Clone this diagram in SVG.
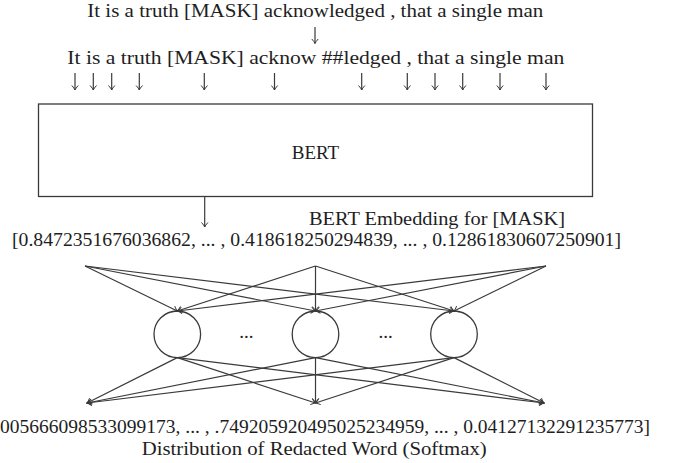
<svg xmlns="http://www.w3.org/2000/svg" width="678" height="463" viewBox="0 0 678 463">
  <style>
    text { font-family: "Liberation Serif", "DejaVu Serif", serif; font-size: 19px; fill: #1e1e1e; }
    .edge { stroke: #3a3a3a; stroke-width: 1.2; fill: none; }
    .arr { marker-end: url(#tip); }
    .node { stroke: #3a3a3a; stroke-width: 1.3; fill: #ffffff; }
  </style>
  <defs>
    <!-- small open arrowhead in the style of a TikZ "to" tip -->
    <marker id="tip" viewBox="-6 -4 7 8" refX="0" refY="0" markerWidth="7" markerHeight="8" markerUnits="userSpaceOnUse" orient="auto">
      <path d="M -4.5,-3.2 Q -1.6,-0.6 0,0 Q -1.6,0.6 -4.5,3.2" fill="none" stroke="#3a3a3a" stroke-width="1"/>
    </marker>
  </defs>

  <rect width="678" height="463" fill="#ffffff"/>

  <!-- input sentence and its word-piece tokenisation -->
  <g id="sentence">
    <text x="87.3" y="17" textLength="456" lengthAdjust="spacingAndGlyphs">It is a truth [MASK] acknowledged , that a single man</text>
  </g>
  <g id="tokens">
    <text x="67.3" y="63.5" textLength="497" lengthAdjust="spacingAndGlyphs">It is a truth [MASK] acknow ##ledged , that a single man</text>
  </g>

  <!-- encoder block -->
  <g id="bert">
    <rect class="node" x="38.5" y="104" width="554" height="92.5" fill="none"/>
    <text x="315.5" y="158.5" text-anchor="middle">BERT</text>
  </g>

  <!-- masked-token embedding -->
  <g id="embedding">
    <text x="309" y="225" textLength="256" lengthAdjust="spacingAndGlyphs">BERT Embedding for [MASK]</text>
    <text x="12" y="245.5" textLength="609" lengthAdjust="spacingAndGlyphs">[0.8472351676036862, ... , 0.418618250294839, ... , 0.12861830607250901]</text>
  </g>

  <!-- hidden layer -->
  <g id="hidden1"><circle class="node" cx="177.3" cy="334.3" r="23.3"/></g>
  <g id="hidden2"><circle class="node" cx="315.5" cy="334.3" r="23.3"/></g>
  <g id="hidden3"><circle class="node" cx="454" cy="334.3" r="23.3"/></g>
  <g id="hidden-gaps">
    <text x="246.4" y="338" text-anchor="middle">...</text>
    <text x="385.5" y="338" text-anchor="middle">...</text>
  </g>

  <!-- softmax output -->
  <g id="output">
    <text x="0" y="433" textLength="650" lengthAdjust="spacingAndGlyphs">005666098533099173, ... , .749205920495025234959, ... , 0.04127132291235773]</text>
    <text x="141.7" y="454.5" textLength="345" lengthAdjust="spacingAndGlyphs">Distribution of Redacted Word (Softmax)</text>
  </g>

  <g id="connectors">
    <!-- tokenisation step -->
    <line class="edge arr" x1="315" y1="27" x2="315" y2="43.5"/>
    <!-- tokens into the encoder -->
    <line class="edge arr" x1="75" y1="73" x2="75" y2="90"/>
    <line class="edge arr" x1="93.3" y1="73" x2="93.3" y2="90"/>
    <line class="edge arr" x1="111.7" y1="73" x2="111.7" y2="90"/>
    <line class="edge arr" x1="139.3" y1="73" x2="139.3" y2="90"/>
    <line class="edge arr" x1="204.3" y1="73" x2="204.3" y2="90"/>
    <line class="edge arr" x1="274.5" y1="73" x2="274.5" y2="90"/>
    <line class="edge arr" x1="361.7" y1="73" x2="361.7" y2="90"/>
    <line class="edge arr" x1="407.3" y1="73" x2="407.3" y2="90"/>
    <line class="edge arr" x1="435" y1="73" x2="435" y2="90"/>
    <line class="edge arr" x1="462.7" y1="73" x2="462.7" y2="90"/>
    <line class="edge arr" x1="500" y1="73" x2="500" y2="90"/>
    <line class="edge arr" x1="546" y1="73" x2="546" y2="90"/>
    <!-- encoder output for the masked position -->
    <line class="edge arr" x1="204.7" y1="196.5" x2="204.7" y2="227"/>

    <!-- embedding to hidden layer -->
    <line class="edge arr" x1="85" y1="266" x2="177.3" y2="311"/>
    <line class="edge arr" x1="85" y1="266" x2="315.5" y2="311"/>
    <line class="edge arr" x1="85" y1="266" x2="454" y2="311"/>
    <line class="edge arr" x1="315.5" y1="266" x2="177.3" y2="311"/>
    <line class="edge arr" x1="315.5" y1="266" x2="315.5" y2="311"/>
    <line class="edge arr" x1="315.5" y1="266" x2="454" y2="311"/>
    <line class="edge arr" x1="546" y1="266" x2="177.3" y2="311"/>
    <line class="edge arr" x1="546" y1="266" x2="315.5" y2="311"/>
    <line class="edge arr" x1="546" y1="266" x2="454" y2="311"/>

    <!-- hidden layer to output -->
    <line class="edge arr" x1="177.3" y1="357.6" x2="87" y2="403"/>
    <line class="edge arr" x1="177.3" y1="357.6" x2="315.5" y2="403"/>
    <line class="edge arr" x1="177.3" y1="357.6" x2="544" y2="403"/>
    <line class="edge arr" x1="315.5" y1="357.6" x2="87" y2="403"/>
    <line class="edge arr" x1="315.5" y1="357.6" x2="315.5" y2="403"/>
    <line class="edge arr" x1="315.5" y1="357.6" x2="544" y2="403"/>
    <line class="edge arr" x1="454" y1="357.6" x2="87" y2="403"/>
    <line class="edge arr" x1="454" y1="357.6" x2="315.5" y2="403"/>
    <line class="edge arr" x1="454" y1="357.6" x2="544" y2="403"/>
  </g>
</svg>
